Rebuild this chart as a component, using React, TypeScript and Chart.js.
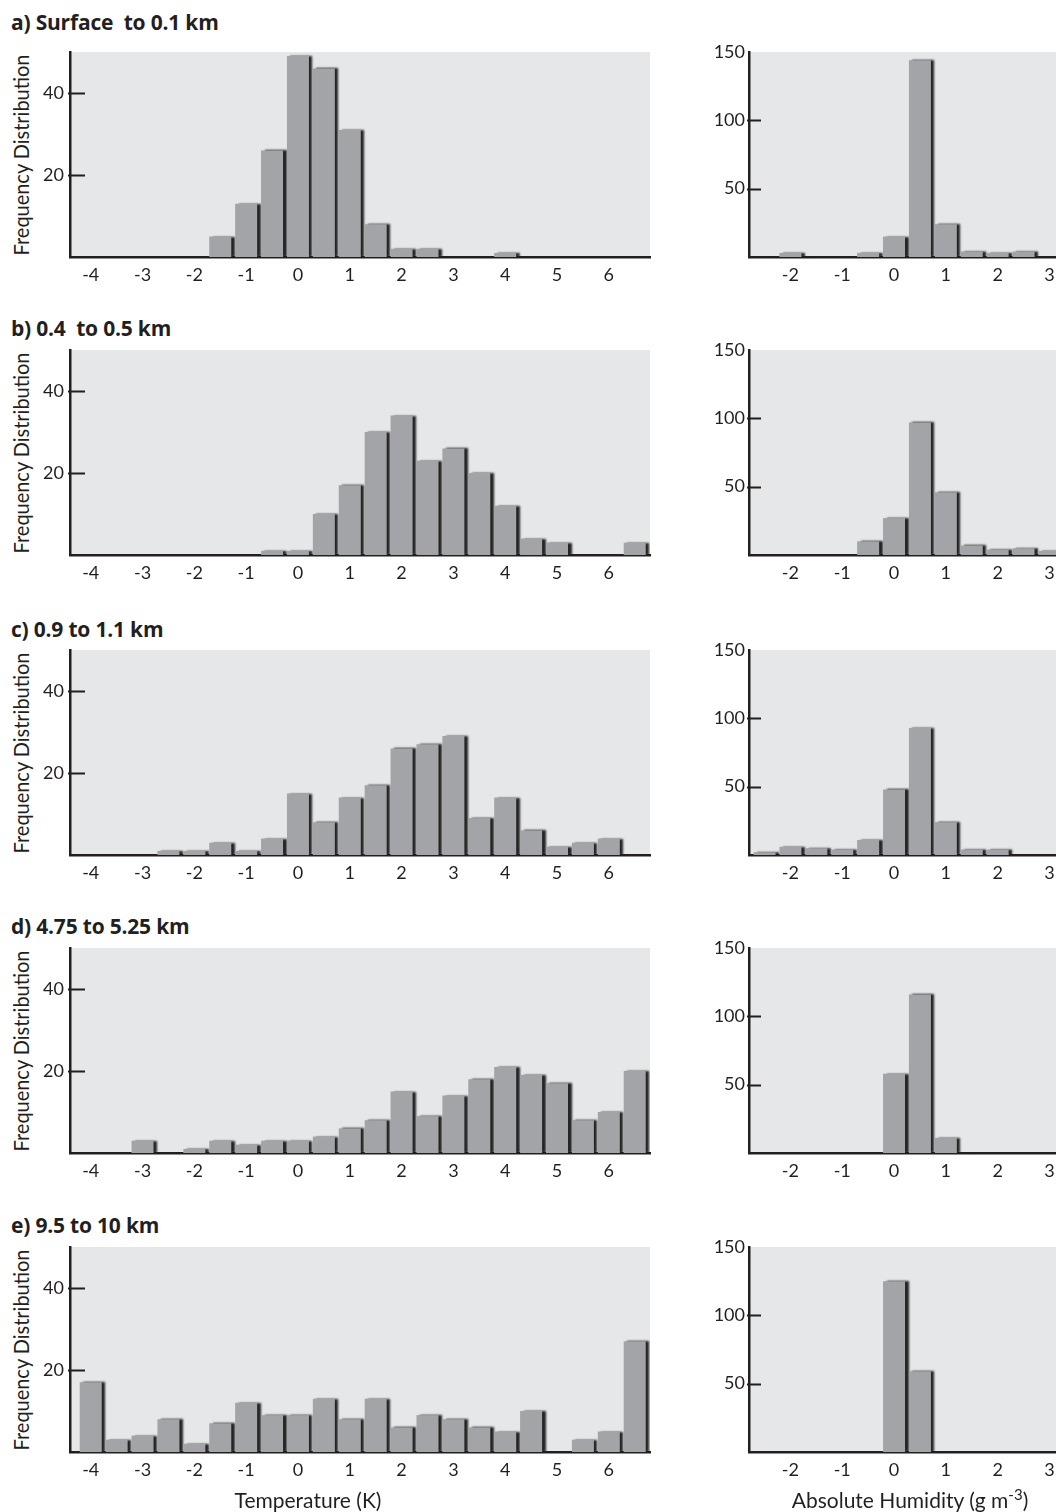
import React, { useEffect, useRef } from 'react';
import { Chart, registerables } from 'chart.js';

Chart.register(...registerables);

const FONT = "Lato, 'Open Sans', 'Noto Sans', sans-serif";
const TITLE_FONT = "'Open Sans', Lato, 'Noto Sans', sans-serif";
const INK = '#231f20';
const PANEL_BG = '#e6e7e8';
const BAR_FILL = '#a3a4a7';
const BAR_SHADOW = 'rgba(25,25,25,0.95)';

Chart.defaults.font.family = FONT;
Chart.defaults.color = INK;

// Bin centres (0.5-unit bins)
const TEMP_BINS = [-4, -3.5, -3, -2.5, -2, -1.5, -1, -0.5, 0, 0.5, 1, 1.5, 2, 2.5, 3, 3.5, 4, 4.5, 5, 5.5, 6, 6.5];
const HUM_BINS = [-2.5, -2, -1.5, -1, -0.5, 0, 0.5, 1, 1.5, 2, 2.5, 3];

// Axis tick labels
const TEMP_TICKS = [-4, -3, -2, -1, 0, 1, 2, 3, 4, 5, 6];
const HUM_TICKS = [-2, -1, 0, 1, 2, 3];
const TEMP_FREQ_TICKS = [20, 40];
const HUM_FREQ_TICKS = [50, 100, 150];

// Height layers
const LEVEL_TITLES = [
  'a) Surface  to 0.1 km',
  'b) 0.4  to 0.5 km',
  'c) 0.9 to 1.1 km',
  'd) 4.75 to 5.25 km',
  'e) 9.5 to 10 km',
];

// Temperature difference counts per layer
const tempSurface = [0, 0, 0, 0, 0, 5, 13, 26, 49, 46, 31, 8, 2, 2, 0, 0, 1, 0, 0, 0, 0, 0];
const temp04to05 = [0, 0, 0, 0, 0, 0, 0, 1, 1, 10, 17, 30, 34, 23, 26, 20, 12, 4, 3, 0, 0, 3];
const temp09to11 = [0, 0, 0, 1, 1, 3, 1, 4, 15, 8, 14, 17, 26, 27, 29, 9, 14, 6, 2, 3, 4, 0];
const temp475to525 = [0, 0, 3, 0, 1, 3, 2, 3, 3, 4, 6, 8, 15, 9, 14, 18, 21, 19, 17, 8, 10, 20];
const temp95to10 = [17, 3, 4, 8, 2, 7, 12, 9, 9, 13, 8, 13, 6, 9, 8, 6, 5, 10, 0, 3, 5, 27];

// Absolute humidity difference counts per layer
const humSurface = [0, 3, 0, 0, 3, 15, 144, 24, 4, 3, 4, 0];
const hum04to05 = [0, 0, 0, 0, 10, 27, 97, 46, 7, 4, 5, 3];
const hum09to11 = [2, 6, 5, 4, 11, 48, 93, 24, 4, 4, 0, 0];
const hum475to525 = [0, 0, 0, 0, 0, 58, 116, 11, 0, 0, 0, 0];
const hum95to10 = [0, 0, 0, 0, 0, 125, 59, 0, 0, 0, 0, 0];

const TEMP_SERIES = [tempSurface, temp04to05, temp09to11, temp475to525, temp95to10];
const HUM_SERIES = [humSurface, hum04to05, hum09to11, hum475to525, hum95to10];

// Page layout
const ROW_BOTTOMS = [257, 555, 855, 1153, 1452];
const TITLE_CENTERS = [22, 328, 629, 926, 1225];
const PLOT_H = 205;
const PAD_TOP = 10;
const XAXIS_H = 40;

type PanelSpec = {
  bins: number[];
  counts: number[];
  xMin: number;
  xMax: number;
  xTicks: number[];
  yMax: number;
  yTicks: number[];
  yAxisWidth: number;
  innerTick: number;
  labelPad: number;
  padRight: number;
};

const panelPlugin = {
  id: 'panelStyle',
  beforeDraw(chart: any) {
    const { ctx, chartArea } = chart;
    ctx.save();
    ctx.fillStyle = PANEL_BG;
    ctx.fillRect(chartArea.left, chartArea.top, chartArea.right - chartArea.left, chartArea.bottom - chartArea.top);
    ctx.restore();
  },
  beforeDatasetsDraw(chart: any) {
    const ctx = chart.ctx;
    ctx.save();
    ctx.shadowColor = BAR_SHADOW;
    ctx.shadowOffsetX = 3.5;
    ctx.shadowOffsetY = 0;
    ctx.shadowBlur = 2;
  },
  afterDatasetsDraw(chart: any) {
    chart.ctx.restore();
  },
  afterDraw(chart: any, _args: any, opts: any) {
    const { ctx, chartArea } = chart;
    const y = chart.scales.y;
    ctx.save();
    ctx.strokeStyle = INK;
    ctx.lineWidth = 2;
    for (const t of y.ticks) {
      if (t.value >= y.max) continue;
      const py = Math.round(y.getPixelForValue(t.value)) + 0.5;
      ctx.beginPath();
      ctx.moveTo(chartArea.left - 2, py);
      ctx.lineTo(chartArea.left + opts.len, py);
      ctx.stroke();
    }
    ctx.restore();
  },
};

function Panel({ spec, left, top, width }: { spec: PanelSpec; left: number; top: number; width: number }) {
  const ref = useRef<HTMLCanvasElement | null>(null);
  const height = PAD_TOP + PLOT_H + XAXIS_H;

  useEffect(() => {
    if (!ref.current) return;
    const chart = new Chart(ref.current, {
      type: 'bar',
      data: {
        datasets: [
          {
            data: spec.bins.map((b, i) => ({ x: b, y: spec.counts[i] })),
            backgroundColor: BAR_FILL,
            borderWidth: 0,
            barPercentage: 0.85,
            categoryPercentage: 1,
          },
        ],
      },
      options: {
        animation: false,
        responsive: false,
        events: [],
        layout: { padding: { top: PAD_TOP, right: spec.padRight, left: 0, bottom: 0 } },
        plugins: {
          legend: { display: false },
          tooltip: { enabled: false },
          panelStyle: { len: spec.innerTick },
        } as any,
        scales: {
          x: {
            type: 'linear',
            min: spec.xMin,
            max: spec.xMax,
            offset: false,
            z: 1,
            grid: { display: false, drawTicks: false, offset: false },
            border: { display: true, color: INK, width: 2.5 },
            ticks: {
              autoSkip: false,
              maxRotation: 0,
              padding: 7,
              color: INK,
              font: { size: 18, family: FONT },
              callback: (v: any) => String(v),
            },
            afterBuildTicks: (s: any) => {
              s.ticks = spec.xTicks.map((v) => ({ value: v }));
            },
            afterFit: (s: any) => {
              s.height = XAXIS_H;
              s.paddingLeft = 0;
              s.paddingRight = 0;
            },
          },
          y: {
            type: 'linear',
            min: 0,
            max: spec.yMax,
            z: 1,
            grid: { display: false, drawTicks: false },
            border: { display: true, color: INK, width: 2.5 },
            ticks: {
              padding: spec.labelPad,
              color: INK,
              font: { size: 18, family: FONT },
              callback: (v: any) => String(v),
            },
            afterBuildTicks: (s: any) => {
              s.ticks = spec.yTicks.map((v) => ({ value: v }));
            },
            afterFit: (s: any) => {
              s.width = spec.yAxisWidth;
              s.paddingTop = 0;
              s.paddingBottom = 0;
            },
          },
        },
      } as any,
      plugins: [panelPlugin],
    });
    return () => chart.destroy();
  }, [spec]);

  return (
    <canvas
      ref={ref}
      width={width}
      height={height}
      style={{ position: 'absolute', left, top, width, height, display: 'block' }}
    />
  );
}

const tempSpecs: PanelSpec[] = TEMP_SERIES.map((counts) => ({
  bins: TEMP_BINS,
  counts,
  xMin: -4.4,
  xMax: 6.795,
  xTicks: TEMP_TICKS,
  yMax: 50,
  yTicks: TEMP_FREQ_TICKS,
  yAxisWidth: 70,
  innerTick: 15,
  labelPad: 6,
  padRight: 10,
}));

const humSpecs: PanelSpec[] = HUM_SERIES.map((counts) => ({
  bins: HUM_BINS,
  counts,
  xMin: -2.8,
  xMax: 3.127,
  xTicks: HUM_TICKS,
  yMax: 150,
  yTicks: HUM_FREQ_TICKS,
  yAxisWidth: 69,
  innerTick: 12,
  labelPad: 4,
  padRight: 0,
}));

const textBase: React.CSSProperties = {
  position: 'absolute',
  fontFamily: FONT,
  color: INK,
  whiteSpace: 'pre',
  margin: 0,
};

export default function App() {
  return (
    <div style={{ position: 'absolute', left: 0, top: 0, width: 1056, height: 1512, background: '#ffffff', overflow: 'hidden' }}>
      {ROW_BOTTOMS.map((b, i) => (
        <React.Fragment key={i}>
          <div
            style={{
              ...textBase,
              fontFamily: TITLE_FONT,
              left: 11,
              top: TITLE_CENTERS[i] - 14,
              height: 28,
              lineHeight: '28px',
              fontSize: 21,
              fontWeight: 700,
              letterSpacing: -0.2,
            }}
          >
            {LEVEL_TITLES[i]}
          </div>
          <div
            style={{
              ...textBase,
              left: 21 - 120,
              top: b - PLOT_H / 2 - 12,
              width: 240,
              height: 24,
              lineHeight: '24px',
              fontSize: 21,
              textAlign: 'center',
              transform: 'rotate(-90deg) scaleX(0.95)',
            }}
          >
            Frequency Distribution
          </div>
          <Panel spec={tempSpecs[i]} left={0} top={b - PLOT_H - PAD_TOP} width={660} />
          <Panel spec={humSpecs[i]} left={680} top={b - PLOT_H - PAD_TOP} width={376} />
        </React.Fragment>
      ))}
      <div
        style={{
          ...textBase,
          left: 208,
          top: 1487,
          width: 200,
          height: 26,
          lineHeight: '26px',
          fontSize: 21,
          textAlign: 'center',
        }}
      >
        Temperature (K)
      </div>
      <div
        style={{
          ...textBase,
          left: 760,
          top: 1487,
          width: 300,
          height: 26,
          lineHeight: '26px',
          fontSize: 21,
          textAlign: 'center',
        }}
      >
        Absolute Humidity (g m
        <span style={{ position: 'relative', top: -8, fontSize: 15 }}>-3</span>)
      </div>
    </div>
  );
}
